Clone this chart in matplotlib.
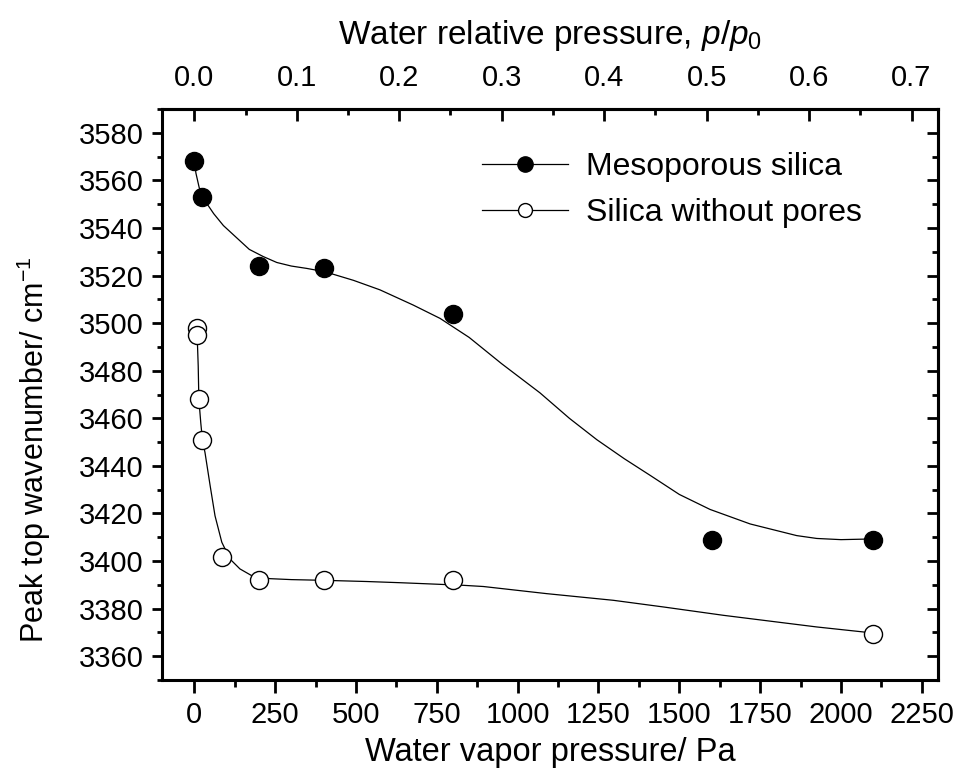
import matplotlib
matplotlib.use("Agg")
import matplotlib.pyplot as plt
from matplotlib.ticker import MultipleLocator, FixedLocator, FormatStrFormatter

plt.rcParams["font.family"] = ["Liberation Sans", "DejaVu Sans"]
plt.rcParams["mathtext.fontset"] = "custom"
plt.rcParams["mathtext.rm"] = "Liberation Sans"
plt.rcParams["mathtext.it"] = "Liberation Sans:italic"

P0 = 3169.0  # saturation pressure of water, Pa

# measured peak positions
meso_x = [0, 25, 200, 400, 800, 1600, 2100]
meso_y = [3568, 3553, 3524, 3523, 3504, 3409, 3409]
solid_x = [8, 8, 15, 25, 85, 200, 400, 800, 2100]
solid_y = [3498, 3495, 3468, 3451, 3401.5, 3392, 3392, 3392, 3369.5]

# smoothed guide curves
meso_fit_x = [0, 5, 15, 25, 40, 60, 90, 130, 170, 213, 255, 300, 348, 404,
              492, 574, 677, 760, 850, 950, 1069, 1160, 1245, 1330, 1410,
              1500, 1595, 1719, 1863, 1925, 2000, 2100]
meso_fit_y = [3568, 3563, 3557, 3553, 3550, 3546, 3541, 3536, 3531, 3528,
              3525.5, 3524, 3523, 3521.6, 3518, 3514, 3507.6, 3502, 3494,
              3483, 3470.7, 3460, 3451, 3443, 3436, 3428, 3421.7, 3415.6,
              3410.7, 3409.5, 3409, 3409.3]
solid_fit_x = [8, 10, 12, 14, 20, 25, 33, 49, 64, 85, 110, 141, 177, 234,
               300, 400, 533, 636, 709, 832, 894, 1090, 1296, 1451, 1636,
               1801, 1925, 2069, 2100]
solid_fit_y = [3497, 3490, 3482, 3468, 3458, 3451, 3445.6, 3431.6, 3419,
               3407.9, 3400.9, 3396.7, 3393.9, 3392.6, 3392.2, 3391.9,
               3391.4, 3390.9, 3390.5, 3389.8, 3389.3, 3386.3, 3383.5,
               3380.7, 3377.2, 3374.4, 3372.3, 3370.2, 3369.5]

rel_ticks = [0.0, 0.1, 0.2, 0.3, 0.4, 0.5, 0.6, 0.7]

fig = plt.figure(figsize=(9.58, 7.76), dpi=100)
ax = fig.add_axes([0.1691, 0.1237, 0.81, 0.7358])

ax.plot(meso_fit_x, meso_fit_y, color="black", lw=0.9, zorder=2)
ax.plot(solid_fit_x, solid_fit_y, color="black", lw=0.9, zorder=2)
ax.plot(meso_x, meso_y, "o", ms=13, mfc="black", mec="black", zorder=3)
ax.plot(solid_x, solid_y, "o", ms=13, mfc="white", mec="black", mew=1.0, zorder=3)

# legend handles: line - marker - line
h1, = ax.plot([], [], "-o", color="black", lw=0.9, ms=11, mfc="black", mec="black")
h2, = ax.plot([], [], "-o", color="black", lw=0.9, ms=10, mfc="white", mec="black", mew=1.0)
ax.legend([h1, h2], ["Mesoporous silica", "Silica without pores"],
          loc="upper left", bbox_to_anchor=(0.412, 0.925), frameon=False,
          fontsize=23, handlelength=2.7, handletextpad=0.55,
          labelspacing=0.5, borderpad=0, borderaxespad=0)

ax.set_xlim(-100, 2300)
ax.set_ylim(3350, 3590)
ax.xaxis.set_major_locator(MultipleLocator(250))
ax.xaxis.set_minor_locator(MultipleLocator(125))
ax.yaxis.set_major_locator(MultipleLocator(20))
ax.yaxis.set_minor_locator(MultipleLocator(10))

for side in ax.spines.values():
    side.set_linewidth(2.2)

ax.tick_params(axis="x", which="major", direction="out", length=9, width=2,
               labelsize=21, pad=6, top=False)
ax.tick_params(axis="x", which="minor", direction="out", length=5, width=2, top=False)
ax.tick_params(axis="y", which="major", direction="out", length=7, width=2,
               labelsize=21, pad=6)
ax.tick_params(axis="y", which="minor", direction="out", length=3.5, width=2)

# mirrored y axis with inward ticks
ay = ax.secondary_yaxis("right")
ay.yaxis.set_major_locator(MultipleLocator(20))
ay.yaxis.set_minor_locator(MultipleLocator(10))
ay.tick_params(which="major", direction="in", length=8, width=2, labelright=False)
ay.tick_params(which="minor", direction="in", length=4, width=2)
ay.spines["right"].set_linewidth(2.2)

# relative pressure scale on top
top = ax.secondary_xaxis("top", functions=(lambda p: p / P0, lambda r: r * P0))
top.xaxis.set_major_locator(FixedLocator(rel_ticks))
top.xaxis.set_minor_locator(MultipleLocator(0.05))
top.xaxis.set_major_formatter(FormatStrFormatter("%.1f"))
top.tick_params(which="major", direction="in", length=8.5, width=2,
                labelsize=21, pad=12)
top.tick_params(which="minor", direction="in", length=4.5, width=2)
top.spines["top"].set_linewidth(2.2)
top.set_xlabel(r"Water relative pressure, $p$/$p_{\mathrm{0}}$", fontsize=24, labelpad=15)

ax.set_xlabel("Water vapor pressure/ Pa", fontsize=23.5, labelpad=6)
ax.set_ylabel(r"Peak top wavenumber/ cm$^{-1}$", fontsize=22)
ax.yaxis.set_label_coords(-0.14, 0.403)

fig.savefig("out.png", dpi=100)
